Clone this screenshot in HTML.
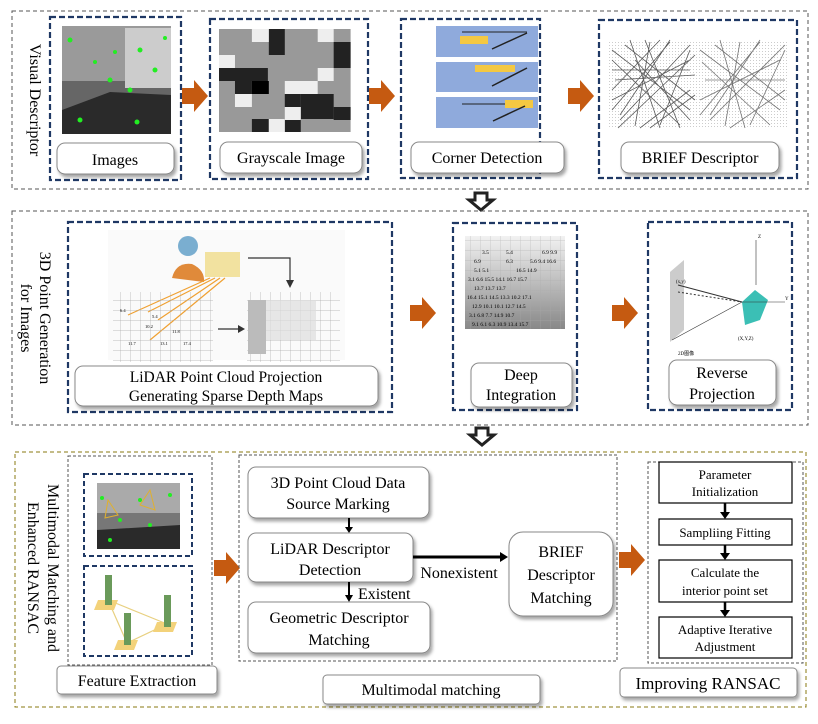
<!DOCTYPE html>
<html><head><meta charset="utf-8"><style>
html,body{margin:0;padding:0;background:#fff}
svg text{font-family:"Liberation Serif",serif;fill:#000}
</style></head><body>
<svg width="818" height="719" viewBox="0 0 818 719" xmlns="http://www.w3.org/2000/svg">
<defs>
<filter id="sh" x="-10%" y="-10%" width="130%" height="140%"><feDropShadow dx="2" dy="3" stdDeviation="1.5" flood-color="#000" flood-opacity="0.35"/></filter>
<g id="oar"><path d="M0,-8 L12,-8 L12,-16 L26,0 L12,16 L12,8 L0,8 Z" fill="#c55a11"/></g>
<g id="dar"><path d="M-6,0 L6,0 L6,7 L12,7 L0,17 L-12,7 L-6,7 Z" fill="#fff" stroke="#222" stroke-width="3"/></g>
<pattern id="grid" width="10" height="10" patternUnits="userSpaceOnUse"><path d="M10 0H0V10" fill="none" stroke="#aaa" stroke-width="0.7"/></pattern>
<pattern id="fg" width="3" height="3" patternUnits="userSpaceOnUse"><rect width="3" height="3" fill="#fff"/><rect width="1" height="1" fill="#ccc"/></pattern>
<linearGradient id="dg" x1="0" y1="0" x2="0" y2="1"><stop offset="0" stop-color="#f2f2f2"/><stop offset="1" stop-color="#888"/></linearGradient>
</defs>

<!-- Section 1 -->
<rect x="12" y="11" width="796" height="178" fill="none" stroke="#555" stroke-dasharray="4,3" stroke-width="1"/>
<text transform="translate(30,100) rotate(90)" text-anchor="middle" font-size="16">Visual Descriptor</text>

<rect x="50" y="17" width="131" height="163" fill="none" stroke="#1f3864" stroke-width="2.2" stroke-dasharray="6,3"/>
<rect x="62" y="26" width="109" height="108" fill="#666"/>
<rect x="62" y="26" width="109" height="55" fill="#9a9a9a"/>
<rect x="125" y="28" width="46" height="60" fill="#ccc"/>
<polygon points="62,134 171,134 171,95 110,92 62,110" fill="#2a2a2a"/>
<g fill="#22ee22"><circle cx="70" cy="40" r="2.5"/><circle cx="140" cy="50" r="2.5"/><circle cx="110" cy="80" r="2.5"/><circle cx="130" cy="90" r="2.5"/><circle cx="80" cy="120" r="2.5"/><circle cx="155" cy="70" r="2.5"/><circle cx="95" cy="62" r="2"/><circle cx="137" cy="122" r="2.5"/><circle cx="165" cy="38" r="2"/><circle cx="115" cy="52" r="2"/></g>
<rect x="57" y="143" width="117" height="31" rx="8" fill="#fff" stroke="#888" filter="url(#sh)"/>
<text x="115" y="165" text-anchor="middle" font-size="16">Images</text>

<use href="#oar" x="182" y="96"/>

<rect x="210" y="19" width="158" height="160" fill="none" stroke="#1f3864" stroke-width="2.2" stroke-dasharray="6,3"/>
<g transform="translate(219,29) scale(0.94,1) translate(-219,-29)">
<rect x="219" y="29" width="140" height="103" fill="#999"/>
<g fill="#222"><rect x="272" y="29" width="17" height="26"/><rect x="341" y="42" width="18" height="26"/><rect x="219" y="68" width="52" height="13"/><rect x="236" y="81" width="18" height="13"/><rect x="289" y="94" width="17" height="13"/><rect x="306" y="94" width="35" height="25"/><rect x="254" y="119" width="18" height="13"/><rect x="289" y="119" width="17" height="13"/><rect x="341" y="107" width="18" height="13"/></g>
<g fill="#eee"><rect x="254" y="29" width="18" height="13"/><rect x="219" y="55" width="17" height="13"/><rect x="324" y="29" width="17" height="13"/><rect x="289" y="81" width="35" height="13"/><rect x="236" y="94" width="18" height="13"/><rect x="289" y="107" width="17" height="13"/><rect x="272" y="119" width="17" height="13"/><rect x="324" y="68" width="17" height="13"/></g>
<rect x="254" y="81" width="18" height="13" fill="#000"/>
</g>
<rect x="220" y="142" width="142" height="31" rx="8" fill="#fff" stroke="#888" filter="url(#sh)"/>
<text x="291" y="163" text-anchor="middle" font-size="16">Grayscale Image</text>

<use href="#oar" x="369" y="96"/>

<rect x="401" y="19" width="139" height="159" fill="none" stroke="#1f3864" stroke-width="2.2" stroke-dasharray="6,3"/>
<g>
<rect x="436" y="26" width="102" height="31" fill="#8faadc"/>
<rect x="436" y="62" width="102" height="30" fill="#8faadc"/>
<rect x="436" y="97" width="102" height="31" fill="#8faadc"/>
<rect x="460" y="36" width="28" height="8" fill="#f4c842"/><rect x="475" y="65" width="40" height="7" fill="#f4c842"/><rect x="505" y="100" width="28" height="8" fill="#f4c842"/>
<line x1="462" y1="32" x2="527" y2="32" stroke="#222"/><line x1="492" y1="49" x2="527" y2="33" stroke="#222" stroke-width="1.5"/>
<line x1="492" y1="86" x2="527" y2="68" stroke="#222" stroke-width="1.5"/><line x1="462" y1="104" x2="505" y2="104" stroke="#222"/><line x1="493" y1="121" x2="525" y2="106" stroke="#222" stroke-width="1.5"/>
</g>
<rect x="411" y="142" width="153" height="31" rx="8" fill="#fff" stroke="#888" filter="url(#sh)"/>
<text x="487" y="163" text-anchor="middle" font-size="16">Corner Detection</text>

<use href="#oar" x="568" y="96"/>

<rect x="599" y="20" width="198" height="158" fill="none" stroke="#1f3864" stroke-width="2.2" stroke-dasharray="6,3"/>
<rect x="609" y="40" width="178" height="88" fill="url(#fg)"/>
<g stroke="#333" stroke-width="0.8" opacity="0.8">
<path d="M612,50L690,110M620,120L690,45M615,80L695,75M630,40L660,128M650,42L635,126M612,100L690,60M640,128L690,90M670,40L620,115M612,60L680,125M660,125L690,50M625,45L695,100M612,110L670,42M645,40L680,128M690,70L612,70M618,128L695,55M635,60L690,120M612,90L660,40M650,128L695,95"/>
<path d="M700,50L780,110M710,120L785,45M705,80L785,80M720,40L745,128M740,42L725,126M700,100L780,60M730,128L785,90M760,40L710,115M702,62L770,125M750,125L785,50M715,45L785,100M700,115L760,42" stroke="#555"/>
</g>
<rect x="621" y="142" width="158" height="31" rx="8" fill="#fff" stroke="#888" filter="url(#sh)"/>
<text x="700" y="163" text-anchor="middle" font-size="16">BRIEF Descriptor</text>

<use href="#dar" x="481" y="193"/>

<!-- Section 2 -->
<rect x="12" y="211" width="796" height="214" fill="none" stroke="#555" stroke-dasharray="4,3" stroke-width="1"/>
<text transform="translate(40,318) rotate(90)" text-anchor="middle" font-size="16">3D Point Generation</text>
<text transform="translate(21,318) rotate(90)" text-anchor="middle" font-size="16">for Images</text>

<rect x="68" y="222" width="324" height="190" fill="none" stroke="#1f3864" stroke-width="2.2" stroke-dasharray="6,3"/>
<rect x="108" y="230" width="237" height="130" fill="#fafafa"/>
<circle cx="188" cy="246" r="10" fill="#7aaed0"/>
<rect x="205" y="252" width="35" height="25" fill="#f2e2a0"/>
<path d="M172,278 Q176,262 192,264 Q205,270 204,282 Z" fill="#e08a3a"/>
<g stroke="#f0a030" stroke-width="1.2"><line x1="210" y1="278" x2="128" y2="315"/><line x1="215" y1="278" x2="148" y2="312"/><line x1="220" y1="278" x2="158" y2="320"/><line x1="225" y1="278" x2="150" y2="340"/></g>
<path d="M248,258 L290,258 L290,283" fill="none" stroke="#333" stroke-width="1.2"/><path d="M286,280 L290,288 L294,280Z" fill="#333"/>
<rect x="113" y="292" width="100" height="70" fill="url(#grid)"/>
<rect x="247" y="292" width="93" height="70" fill="url(#grid)"/>
<rect x="248" y="300" width="18" height="54" fill="#bbb"/><rect x="266" y="300" width="50" height="40" fill="#ddd" opacity="0.7"/>
<path d="M218,329 L240,329" stroke="#333" stroke-width="1.2"/><path d="M238,325 L245,329 L238,333Z" fill="#333"/>
<g font-size="4.5" font-family="Liberation Sans"><text x="120" y="312">6.4</text><text x="152" y="318">5.4</text><text x="145" y="328">10.2</text><text x="172" y="333">11.8</text><text x="128" y="345">11.7</text><text x="160" y="345">13.1</text><text x="183" y="345">17.4</text></g>
<rect x="75" y="366" width="303" height="40" rx="8" fill="#fff" stroke="#888" filter="url(#sh)"/>
<text x="226" y="382" text-anchor="middle" font-size="15.5">LiDAR Point Cloud Projection</text>
<text x="226" y="401" text-anchor="middle" font-size="15.5">Generating Sparse Depth Maps</text>

<use href="#oar" x="410" y="313"/>

<rect x="453" y="223" width="124" height="187" fill="none" stroke="#1f3864" stroke-width="2.2" stroke-dasharray="6,3"/>
<rect x="465" y="236" width="100" height="93" fill="url(#dg)"/>
<rect x="465" y="236" width="100" height="93" fill="url(#grid)" opacity="0.7"/>
<g font-size="5.5" font-family="Liberation Sans" fill="#333"><text x="482" y="254">3.5</text><text x="506" y="254">5.4</text><text x="542" y="254">6.9 9.9</text><text x="474" y="263">6.9</text><text x="506" y="263">6.3</text><text x="530" y="263">5.6 9.4 16.6</text><text x="474" y="272">5.1 5.1</text><text x="516" y="272">16.5 14.9</text><text x="468" y="281">3.1 6.6 15.5 14.1 16.7 15.7</text><text x="474" y="290">13.7 13.7 13.7</text><text x="467" y="299">16.4 15.1 14.5 13.3 10.2 17.1</text><text x="472" y="308">12.9 10.1 10.1 12.7 14.5</text><text x="469" y="317">3.1 6.8 7.7 14.9 10.7</text><text x="472" y="326">9.1 6.1 6.3 10.9 13.4 15.7</text></g>
<rect x="471" y="363" width="101" height="44" rx="8" fill="#fff" stroke="#888" filter="url(#sh)"/>
<text x="521" y="380" text-anchor="middle" font-size="16">Deep</text>
<text x="521" y="400" text-anchor="middle" font-size="16">Integration</text>

<use href="#oar" x="612" y="313"/>

<rect x="648" y="222" width="144" height="188" fill="none" stroke="#1f3864" stroke-width="2.2" stroke-dasharray="6,3"/>
<polygon points="670,272 684,260 684,330 670,342" fill="#ccc"/>
<line x1="678" y1="285" x2="742" y2="302" stroke="#333"/><line x1="678" y1="292" x2="742" y2="302" stroke="#333" stroke-dasharray="2,2"/>
<line x1="672" y1="340" x2="742" y2="302" stroke="#333" stroke-width="0.6"/>
<polygon points="742,302 755,290 768,300 760,320 745,325" fill="#3bbfb5"/>
<line x1="742" y1="302" x2="785" y2="302" stroke="#333" stroke-width="0.6"/><line x1="756" y1="285" x2="756" y2="240" stroke="#333" stroke-width="0.6"/>
<g font-size="5" font-family="Liberation Sans" fill="#333"><text x="676" y="283">(x,y)</text><text x="738" y="340">(X,Y,Z)</text><text x="678" y="355">2D图像</text><text x="758" y="238">Z</text><text x="785" y="300">Y</text></g>
<rect x="669" y="360" width="107" height="45" rx="8" fill="#fff" stroke="#888" filter="url(#sh)"/>
<text x="722" y="378" text-anchor="middle" font-size="16">Reverse</text>
<text x="722" y="399" text-anchor="middle" font-size="16">Projection</text>

<use href="#dar" x="482" y="428"/>

<!-- Section 3 -->
<rect x="15" y="452" width="791" height="255" fill="none" stroke="#8a7a10" stroke-dasharray="4,3" stroke-width="1"/>
<text transform="translate(48,568) rotate(90)" text-anchor="middle" font-size="16">Multimodal Matching and</text>
<text transform="translate(28,568) rotate(90)" text-anchor="middle" font-size="16">Enhanced RANSAC</text>

<rect x="68" y="456" width="144" height="209" fill="none" stroke="#555" stroke-dasharray="3,2" stroke-width="1"/>
<rect x="84" y="474" width="108" height="82" fill="none" stroke="#1f3864" stroke-width="2" stroke-dasharray="5,3"/>
<rect x="97" y="483" width="83" height="66" fill="#777"/>
<rect x="97" y="483" width="83" height="30" fill="#aaa"/>
<polygon points="97,549 180,549 180,525 97,530" fill="#2a2a2a"/>
<g fill="#22ee22"><circle cx="102" cy="498" r="2"/><circle cx="140" cy="500" r="2"/><circle cx="170" cy="495" r="2"/><circle cx="150" cy="525" r="2"/><circle cx="120" cy="520" r="2"/><circle cx="110" cy="540" r="2"/></g>
<g stroke="#e0b030" fill="none"><path d="M108,500 L118,515 L105,518Z"/><path d="M140,505 L150,490 L155,510Z"/></g>
<rect x="84" y="566" width="108" height="90" fill="none" stroke="#1f3864" stroke-width="2" stroke-dasharray="5,3"/>
<g stroke="#e8d080" stroke-width="1.2"><line x1="108" y1="600" x2="167" y2="624"/><line x1="108" y1="600" x2="127" y2="643"/><line x1="127" y1="643" x2="167" y2="624"/></g>
<g fill="#f3d27a"><polygon points="98,600 118,600 114,610 94,610"/><polygon points="157,622 177,622 173,632 153,632"/><polygon points="118,640 138,640 134,650 114,650"/></g>
<g fill="#6a9a5a"><rect x="105" y="575" width="7" height="30"/><rect x="164" y="595" width="7" height="32"/><rect x="124" y="613" width="7" height="32"/></g>
<rect x="57" y="666" width="160" height="28" rx="4" fill="#fff" stroke="#888" filter="url(#sh)"/>
<text x="137" y="686" text-anchor="middle" font-size="16">Feature Extraction</text>

<use href="#oar" x="214" y="568"/>

<rect x="239" y="455" width="378" height="206" fill="none" stroke="#555" stroke-dasharray="3,2" stroke-width="1"/>
<rect x="248" y="467" width="181" height="51" rx="8" fill="#fff" stroke="#888" filter="url(#sh)"/>
<text x="338" y="488" text-anchor="middle" font-size="16">3D Point Cloud Data</text>
<text x="338" y="509" text-anchor="middle" font-size="16">Source Marking</text>
<line x1="349" y1="518" x2="349" y2="528" stroke="#000" stroke-width="2"/><path d="M345,527 L349,533 L353,527Z"/>
<rect x="248" y="533" width="165" height="49" rx="8" fill="#fff" stroke="#888" filter="url(#sh)"/>
<text x="330" y="554" text-anchor="middle" font-size="16">LiDAR Descriptor</text>
<text x="330" y="575" text-anchor="middle" font-size="16">Detection</text>
<line x1="413" y1="557" x2="502" y2="557" stroke="#000" stroke-width="3"/><path d="M500,552 L508,557 L500,562Z"/>
<text x="459" y="578" text-anchor="middle" font-size="16">Nonexistent</text>
<line x1="349" y1="582" x2="349" y2="597" stroke="#000" stroke-width="2"/><path d="M345,595 L349,602 L353,595Z"/>
<text x="358" y="599" font-size="16">Existent</text>
<rect x="248" y="602" width="182" height="51" rx="8" fill="#fff" stroke="#888" filter="url(#sh)"/>
<text x="339" y="623" text-anchor="middle" font-size="16">Geometric Descriptor</text>
<text x="339" y="645" text-anchor="middle" font-size="16">Matching</text>
<rect x="509" y="532" width="104" height="84" rx="14" fill="#fff" stroke="#888" filter="url(#sh)"/>
<text x="561" y="557" text-anchor="middle" font-size="16">BRIEF</text>
<text x="561" y="580" text-anchor="middle" font-size="16">Descriptor</text>
<text x="561" y="603" text-anchor="middle" font-size="16">Matching</text>
<rect x="323" y="675" width="217" height="29" rx="4" fill="#fff" stroke="#888" filter="url(#sh)"/>
<text x="431" y="695" text-anchor="middle" font-size="16">Multimodal matching</text>

<use href="#oar" x="619" y="560"/>

<rect x="648" y="462" width="155" height="201" fill="none" stroke="#555" stroke-dasharray="3,2" stroke-width="1"/>
<g fill="#fff" stroke="#000" stroke-width="1.2">
<rect x="659" y="462" width="133" height="41"/><rect x="659" y="519" width="133" height="26"/><rect x="659" y="560" width="133" height="42"/><rect x="659" y="617" width="133" height="41"/></g>
<g font-size="13" text-anchor="middle"><text x="725" y="479">Parameter</text><text x="725" y="496">Initialization</text><text x="725" y="537">Sampliing Fitting</text><text x="725" y="577">Calculate the</text><text x="725" y="595">interior point set</text><text x="725" y="634">Adaptive Iterative</text><text x="725" y="651">Adjustment</text></g>
<g stroke="#000" stroke-width="2.5"><line x1="725" y1="503" x2="725" y2="513"/><line x1="725" y1="545" x2="725" y2="554"/><line x1="725" y1="602" x2="725" y2="611"/></g>
<g><path d="M720,512 L725,519 L730,512Z"/><path d="M720,553 L725,560 L730,553Z"/><path d="M720,610 L725,617 L730,610Z"/></g>
<rect x="620" y="668" width="177" height="29" rx="4" fill="#fff" stroke="#888" filter="url(#sh)"/>
<text x="708" y="689" text-anchor="middle" font-size="17">Improving RANSAC</text>
</svg>
</body></html>
